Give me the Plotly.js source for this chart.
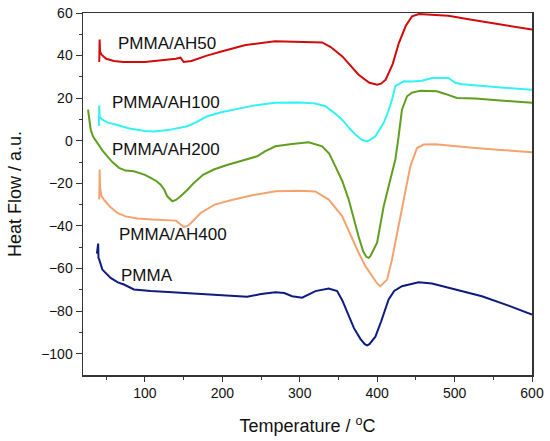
<!DOCTYPE html>
<html>
<head>
<meta charset="utf-8">
<script src="https://cdn.plot.ly/plotly-3.0.1.min.js"></script>
<style>html,body{margin:0;padding:0;background:#fff;}#chart{width:550px;height:441px;}</style>
</head>
<body>
<div id="chart"></div>
<script>
// PMMA/AH50 (red)
const ah50X = [41, 41.5, 42, 44, 50, 60, 72, 100, 130, 140, 146, 150, 160, 180, 200, 230, 268, 300, 329, 340, 355, 376, 390, 400, 405, 411, 420, 428, 437, 445, 454, 470, 492, 520, 560, 600];
const ah50Y = [37, 47.5, 42, 40.4, 38.5, 37.5, 37, 37, 38, 38.5, 39, 37, 37.5, 40, 42, 45, 46.7, 46.5, 46.2, 44, 39.6, 31, 27.2, 26.3, 26.8, 28.7, 36, 45.9, 54, 58.4, 59.5, 59.2, 58.7, 57, 54.5, 52.2];
// PMMA/AH100 (cyan)
const ah100X = [40.5, 41, 41.5, 45, 52, 62, 80, 100, 111.6, 130, 141.8, 154.7, 165, 180.5, 200, 214.8, 240, 268.6, 300, 320, 333, 345, 354.7, 365, 371.9, 380, 387, 391.2, 397.7, 408.4, 414, 419.2, 423.5, 434.2, 445, 457.8, 470.8, 492, 500.9, 510, 526.7, 560, 600];
const ah100Y = [7, 16.5, 11, 9.9, 8.5, 7.6, 5.8, 4.6, 4.4, 5, 6.0, 6.8, 8.5, 11.5, 13.5, 14.6, 16.5, 17.8, 18, 17.5, 16.2, 13, 9.9, 5.5, 2.9, 0.5, -0.3, 0.5, 2.1, 8.4, 13.5, 19.3, 25.6, 27.9, 27.8, 28.2, 29.5, 29.5, 27.2, 26.5, 25.9, 25, 24];
// PMMA/AH200 (green)
const ah200X = [26.5, 29.9, 33, 38.6, 45, 51.5, 58, 66.5, 75, 85.8, 100, 107.4, 115, 120.3, 125, 128.9, 135.4, 140, 146, 155, 163.2, 175, 189, 205, 223.5, 245, 255, 268.6, 290, 311.6, 328.9, 338, 346, 355, 363.2, 370, 376, 382, 386, 389, 391.2, 399.9, 408.4, 417, 423.5, 427.7, 432, 438.6, 445, 455.7, 477.3, 488, 503, 526.7, 569.7, 600];
const ah200Y = [14.6, 5.2, 2, -1.0, -4.5, -7.3, -10, -12.7, -14, -14.3, -16, -17.4, -19, -20.6, -23, -26.1, -28.4, -27.8, -26.1, -23, -19.8, -16, -13.5, -11.5, -9.6, -7.3, -5, -2.6, -1.5, -0.7, -2.6, -6, -12, -19, -27.6, -37, -45, -52, -54.5, -55, -54.2, -47.9, -30.8, -18.2, -8.8, 2.1, 14.6, 20.9, 22.6, 23.5, 23.2, 22, 20.1, 19.8, 18.5, 17.8];
// PMMA/AH400 (orange)
const ah400X = [41, 41.5, 42, 44, 47, 55, 64.4, 75, 90, 110, 130, 140, 145, 150.3, 155, 160, 171.9, 190, 214.8, 240, 268.6, 300, 320, 337.4, 354.7, 365, 376, 385, 393.4, 400, 404.1, 412.8, 419, 425.7, 434.2, 442.8, 451.5, 460, 475, 492, 526.7, 560, 600];
const ah400Y = [-27.6, -13.5, -22, -26, -27.6, -31, -33.9, -35.5, -36.5, -37, -37.5, -37.5, -39, -40.5, -40, -38.5, -33.9, -30, -27.6, -25.5, -23.7, -23.5, -23.8, -27.6, -35.4, -44, -52.6, -59, -63.6, -67, -68.3, -65.2, -56, -43.2, -27.6, -12, -3.4, -1.8, -1.6, -2.3, -3.4, -4.3, -5.4];
// PMMA (navy)
const pmmaX = [38, 39.6, 40, 41, 45, 50, 55.7, 65, 72.9, 85.8, 107.4, 130, 150.3, 193.4, 215, 232.1, 250, 268.6, 280, 290.1, 303, 312, 320.3, 337.4, 348.3, 355, 363.2, 370, 378.3, 384, 387, 390, 397.7, 405, 414.8, 422, 432, 453.6, 470.8, 500.9, 535.3, 569.7, 600];
const pmmaY = [-53, -48.3, -55, -55.8, -60.5, -62.5, -64.4, -66.5, -67.5, -69.8, -70.6, -71, -71.4, -72.5, -73, -73.3, -72, -71.1, -71.5, -73, -73.7, -72, -70.6, -69.4, -70.6, -75, -82.4, -88, -93, -95.5, -96.1, -95.5, -92, -85, -74.5, -70.5, -68.3, -66.4, -67, -69.8, -73, -77.4, -81.6];

const seriesNames = ["PMMA/AH50", "PMMA/AH100", "PMMA/AH200", "PMMA/AH400", "PMMA"];
const labelX = [62, 54.5, 54.5, 63.5, 66];
const labelY = [45.6, 17.9, -4.2, -44, -63.3];

const xs = [ah50X, ah100X, ah200X, ah400X, pmmaX];
const ys = [ah50Y, ah100Y, ah200Y, ah400Y, pmmaY];
const colors = ["#d10a0a", "#33f2f2", "#5f9e1f", "#f5a36e", "#0d1a80"];

const traces = xs.map((x, i) => ({
  x: x, y: ys[i], type: "scatter", mode: "lines", name: seriesNames[i],
  line: {color: colors[i], width: 2}, hoverinfo: "skip"
}));

const font = "Liberation Sans, Arial, sans-serif";
const annotations = seriesNames.map((t, i) => ({
  x: labelX[i], y: labelY[i], xref: "x", yref: "y", text: t, showarrow: false,
  xanchor: "left", yanchor: "middle", font: {family: font, size: 17, color: "#111"}
}));

const layout = {
  width: 550, height: 441,
  margin: {l: 83, r: 18, t: 13, b: 66},
  paper_bgcolor: "#fff", plot_bgcolor: "#fff",
  showlegend: false,
  font: {family: font, color: "#111"},
  xaxis: {
    range: [20, 600], tickvals: [100, 200, 300, 400, 500, 600],
    ticks: "outside", ticklen: 5, tickwidth: 1, tickcolor: "#333",
    minor: {tickvals: [50, 150, 250, 350, 450, 550], ticks: "outside", ticklen: 3, tickcolor: "#333"},
    showline: true, linecolor: "#333", linewidth: 1.5, mirror: true,
    showgrid: false, zeroline: false,
    tickfont: {size: 14, family: font, color: "#111"},
    title: {text: "Temperature / <sup>o</sup>C", font: {size: 18, family: font, color: "#111"}, standoff: 19}
  },
  yaxis: {
    range: [-110, 60], tickvals: [-100, -80, -60, -40, -20, 0, 20, 40, 60],
    ticks: "outside", ticklen: 6, tickwidth: 1, tickcolor: "#333",
    minor: {tickvals: [-90, -70, -50, -30, -10, 10, 30, 50], ticks: "outside", ticklen: 3, tickcolor: "#333"},
    showline: true, linecolor: "#333", linewidth: 1.5, mirror: true,
    showgrid: false, zeroline: false,
    tickfont: {size: 14, family: font, color: "#111"},
    title: {text: "Heat Flow / a.u.", font: {size: 18, family: font, color: "#111"}, standoff: 15}
  },
  annotations: annotations
};

Plotly.newPlot("chart", traces, layout, {displayModeBar: false, staticPlot: true});
</script>
</body>
</html>
